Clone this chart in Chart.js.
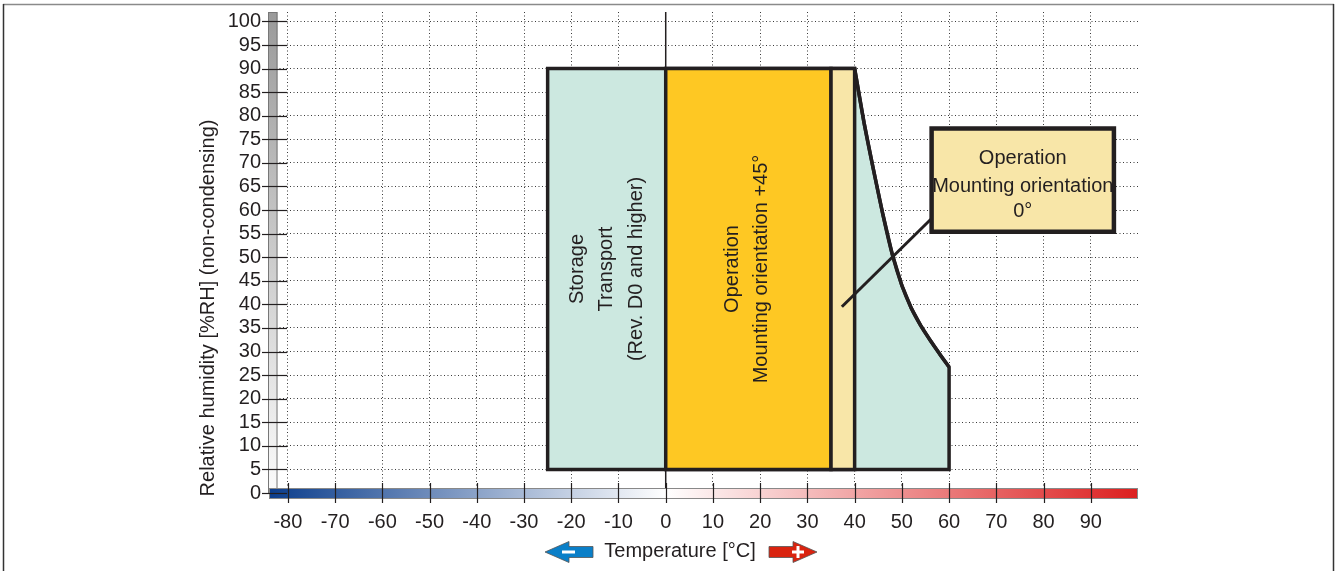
<!DOCTYPE html>
<html>
<head>
<meta charset="utf-8">
<script src="https://cdn.jsdelivr.net/npm/chart.js@4/dist/chart.umd.min.js"></script>
<style>
  html, body { margin: 0; padding: 0; background: #fff; }
  #wrap { position: relative; width: 1337px; height: 571px; }
</style>
</head>
<body>
<div id="wrap"><canvas id="envChart"></canvas></div>
<script>
// Axis ticks
const xTicks = [-80, -70, -60, -50, -40, -30, -20, -10, 0, 10, 20, 30, 40, 50, 60, 70, 80, 90];
const yTicks = [0, 5, 10, 15, 20, 25, 30, 35, 40, 45, 50, 55, 60, 65, 70, 75, 80, 85, 90, 95, 100];

// Storage / transport area (closed outline)
const storageX = [-25, -25, 40, 42, 44, 46, 48, 50, 52, 54, 56, 58, 60, 60, -25, -25];
const storageY = [40, 90, 90, 78.5, 68.5, 59, 50.5, 44, 39.2, 35.5, 32.4, 29.5, 26.7, 5, 5, 40];

// Upper limit curve of the storage area
const curveX = [40, 42, 44, 46, 48, 50, 52, 54, 56, 58, 60];
const curveY = [90, 78.5, 68.5, 59, 50.5, 44, 39.2, 35.5, 32.4, 29.5, 26.7];

// Operation, mounting orientation +45°
const op45X = [0, 0, 35, 35, 0, 0];
const op45Y = [40, 90, 90, 5, 5, 40];

// Operation, mounting orientation 0°
const op0X = [35, 35, 40, 40, 35, 35];
const op0Y = [40, 90, 90, 5, 5, 40];

// Callout box and its leader line
const calloutX = [56.3, 56.3, 94.9, 94.9, 56.3, 56.3];
const calloutY = [66, 77.3, 77.3, 55.4, 55.4, 66];
const leaderX = [37.3, 56.3];
const leaderY = [39.5, 58.2];

// 0 °C line
const zeroX = [0, 0];
const zeroY = [0, 102];

const storageLabel = ['Storage', 'Transport', '(Rev. D0 and higher)'];
const op45Label = ['Operation', 'Mounting orientation +45°'];
const op0Label = ['Operation', 'Mounting orientation', '0°'];
const yTitle = 'Relative humidity [%RH] (non-condensing)';
const xTitle = 'Temperature [°C]';

const FONT = '"Liberation Sans", Arial, sans-serif';
const INK = '#231f20';

const pts = (xs, ys) => xs.map((x, i) => ({ x: x, y: ys[i] }));

function shape(data, fillColor, width, order, tension) {
    return {
        data: data,
        borderColor: INK,
        backgroundColor: fillColor || 'transparent',
        borderWidth: width,
        borderJoinStyle: 'miter',
        fill: fillColor ? 'shape' : false,
        pointRadius: 0,
        tension: tension || 0,
        order: order
    };
}

const decor = {
    id: 'decor',
    beforeDraw(chart) {
        const ctx = chart.ctx;
        ctx.save();
        ctx.lineWidth = 1.5;
        ctx.strokeStyle = '#8a8a8a';
        ctx.beginPath(); ctx.moveTo(3, 4.5); ctx.lineTo(1334, 4.5); ctx.stroke();
        ctx.strokeStyle = '#333';
        ctx.beginPath(); ctx.moveTo(3.5, 4); ctx.lineTo(3.5, 571); ctx.stroke();
        ctx.beginPath(); ctx.moveTo(1333.5, 4); ctx.lineTo(1333.5, 571); ctx.stroke();
        ctx.restore();
    },
    afterDatasetsDraw(chart) {
        const ctx = chart.ctx;
        const a = chart.chartArea;
        const sx = chart.scales.x, sy = chart.scales.y;
        ctx.save();

        // grey humidity bar
        const gg = ctx.createLinearGradient(0, a.top, 0, a.bottom);
        gg.addColorStop(0, '#9a9a9a');
        gg.addColorStop(1, '#fbfbfb');
        ctx.fillStyle = gg;
        ctx.fillRect(a.left - 1, a.top, 9.5, a.bottom - a.top);
        ctx.strokeStyle = '#777';
        ctx.lineWidth = 1;
        ctx.strokeRect(a.left - 0.5, a.top + 0.5, 8.5, a.bottom - a.top);

        // temperature bar
        const zf = (sx.getPixelForValue(0) - a.left) / (a.right - a.left);
        const tg = ctx.createLinearGradient(a.left, 0, a.right, 0);
        tg.addColorStop(0, '#0b3d8c');
        tg.addColorStop(zf, '#ffffff');
        tg.addColorStop(1, '#dc1f1f');
        ctx.fillStyle = tg;
        ctx.fillRect(a.left, a.bottom - 5, a.right - a.left, 11);
        ctx.strokeStyle = '#888';
        ctx.strokeRect(a.left + 0.5, a.bottom - 4.5, a.right - a.left - 1, 10);

        // tick marks
        ctx.strokeStyle = INK;
        ctx.lineWidth = 1.2;
        yTicks.forEach(v => {
            const y = Math.round(sy.getPixelForValue(v)) + 0.5;
            ctx.beginPath(); ctx.moveTo(a.left - 7, y); ctx.lineTo(a.left + 18, y); ctx.stroke();
        });
        xTicks.forEach(v => {
            const x = Math.round(sx.getPixelForValue(v)) + 0.5;
            ctx.beginPath(); ctx.moveTo(x, a.bottom - 10); ctx.lineTo(x, a.bottom + 10); ctx.stroke();
        });

        // labels inside the areas
        ctx.fillStyle = INK;
        ctx.font = '20px ' + FONT;
        ctx.textAlign = 'center';
        ctx.textBaseline = 'middle';
        const vText = (lines, cx, cy, lh) => {
            ctx.save();
            ctx.translate(cx, cy);
            ctx.rotate(-Math.PI / 2);
            lines.forEach((t, i) => ctx.fillText(t, 0, (i - (lines.length - 1) / 2) * lh));
            ctx.restore();
        };
        const midY = (sy.getPixelForValue(5) + sy.getPixelForValue(90)) / 2;
        vText(storageLabel, (sx.getPixelForValue(-25) + sx.getPixelForValue(0)) / 2, midY, 29.5);
        vText(op45Label, (sx.getPixelForValue(0) + sx.getPixelForValue(35)) / 2 - 1.5, midY, 29);

        // callout text
        const bx = (sx.getPixelForValue(56.3) + sx.getPixelForValue(94.9)) / 2;
        const bt = sy.getPixelForValue(77.3);
        ctx.textBaseline = 'alphabetic';
        ctx.fillText(op0Label[0], bx, bt + 36);
        ctx.fillText(op0Label[1], bx, bt + 64);
        ctx.fillText(op0Label[2], bx, bt + 89);

        // y axis title
        ctx.textBaseline = 'middle';
        vText([yTitle], 208, 308, 0);

        // temperature legend with arrows
        ctx.fillText(xTitle, 680, 551);
        ctx.lineWidth = 0.8;
        ctx.strokeStyle = '#555';
        ctx.fillStyle = '#0a7fc8';
        ctx.beginPath();
        ctx.moveTo(545, 552); ctx.lineTo(569, 541.5); ctx.lineTo(569, 546.5); ctx.lineTo(593, 546.5);
        ctx.lineTo(593, 557.5); ctx.lineTo(569, 557.5); ctx.lineTo(569, 562.5); ctx.closePath();
        ctx.fill(); ctx.stroke();
        ctx.fillStyle = '#fff';
        ctx.fillRect(562, 550.5, 13, 3);

        ctx.fillStyle = '#d9230f';
        ctx.beginPath();
        ctx.moveTo(769, 546.5); ctx.lineTo(793, 546.5); ctx.lineTo(793, 541.5); ctx.lineTo(817, 552);
        ctx.lineTo(793, 562.5); ctx.lineTo(793, 557.5); ctx.lineTo(769, 557.5); ctx.closePath();
        ctx.fill(); ctx.stroke();
        ctx.fillStyle = '#fff';
        ctx.fillRect(792, 550.5, 12, 3);
        ctx.fillRect(796.5, 546, 3, 12);

        ctx.restore();
    }
};

const ctx = document.getElementById('envChart').getContext('2d');
new Chart(ctx, {
    type: 'line',
    data: {
        datasets: [
            shape(pts(calloutX, calloutY), '#f8e6a8', 4.5, 0),
            shape(pts(leaderX, leaderY), null, 3, 1),
            shape(pts(op0X, op0Y), '#f8e6a8', 3.5, 2),
            shape(pts(op45X, op45Y), '#fec823', 3.5, 3),
            shape(pts(curveX, curveY), null, 3.5, 4, 0.4),
            shape(pts(storageX, storageY), '#cce8e0', 3.5, 5),
            shape(pts(zeroX, zeroY), null, 1.5, 6)
        ]
    },
    options: {
        responsive: true,
        maintainAspectRatio: false,
        animation: false,
        events: [],
        layout: { padding: { top: 12, right: 199, bottom: 0, left: 0 } },
        plugins: {
            legend: { display: false },
            tooltip: { enabled: false }
        },
        scales: {
            x: {
                type: 'linear',
                min: -84,
                max: 100,
                afterBuildTicks: s => { s.ticks = xTicks.map(v => ({ value: v })); },
                afterFit: s => { s.height = 78; s.paddingLeft = 0; s.paddingRight = 0; },
                grid: { color: '#3a3a3a', lineWidth: 1, drawTicks: false },
                border: { display: false, dash: [1, 2.5] },
                ticks: {
                    color: INK,
                    padding: 17,
                    maxRotation: 0,
                    autoSkip: false,
                    font: { family: FONT, size: 20 }
                }
            },
            y: {
                type: 'linear',
                min: 0,
                max: 102,
                afterBuildTicks: s => { s.ticks = yTicks.map(v => ({ value: v })); },
                afterFit: s => { s.width = 269; s.paddingTop = 0; s.paddingBottom = 0; },
                grid: { color: '#3a3a3a', lineWidth: 1, drawTicks: false },
                border: { display: false, dash: [1, 2.5] },
                ticks: {
                    color: INK,
                    padding: 8,
                    autoSkip: false,
                    font: { family: FONT, size: 20 }
                }
            }
        }
    },
    plugins: [decor]
});
</script>
</body>
</html>
